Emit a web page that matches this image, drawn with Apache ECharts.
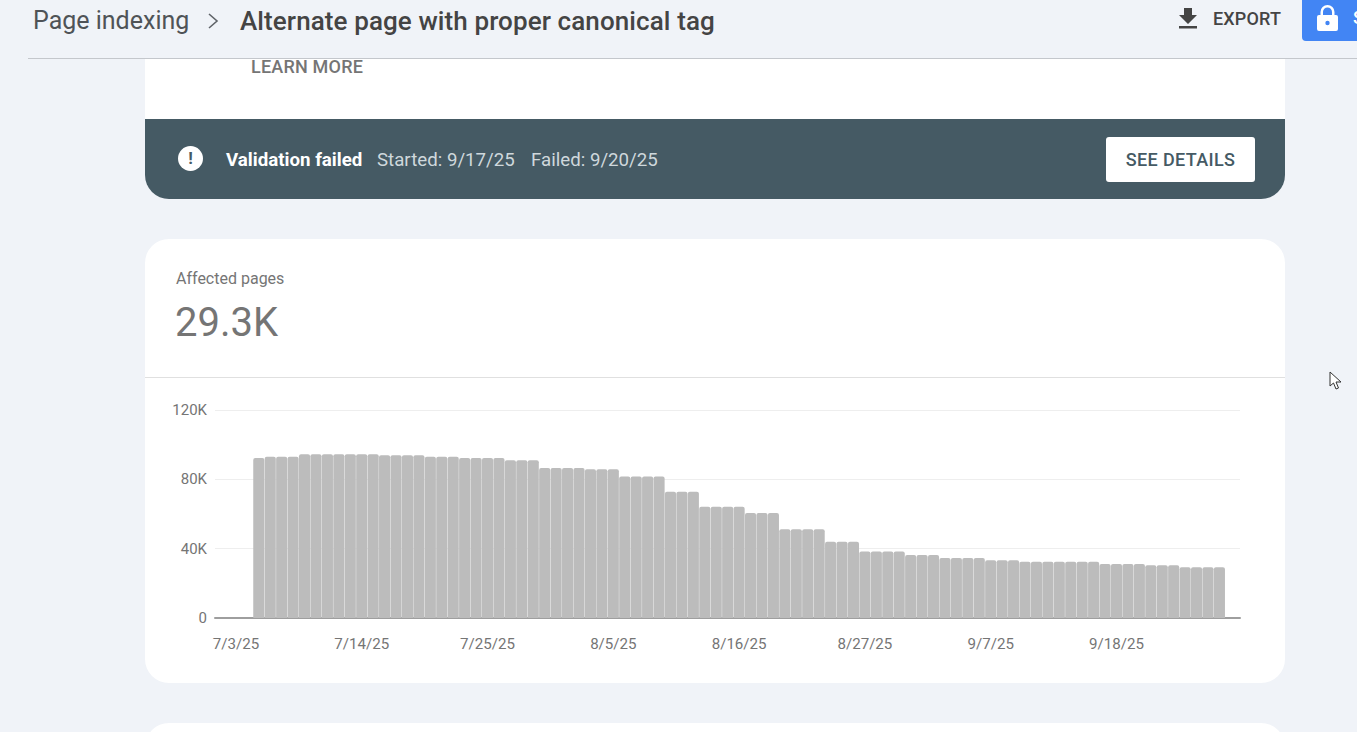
<!DOCTYPE html>
<html>
<head>
<meta charset="utf-8">
<script src="https://cdn.jsdelivr.net/npm/echarts@6/dist/echarts.min.js"></script>
<style>
html,body{margin:0;padding:0;width:1357px;height:732px;overflow:hidden;background:#f0f3f8;font-family:Roboto,sans-serif}
.abs{position:absolute;white-space:nowrap}
#chart{position:absolute;left:0;top:0;width:1357px;height:732px;z-index:3}
</style>
</head>
<body>
<div class="abs" style="left:33px;top:5px;font-size:25px;line-height:32px;color:#4f5357">Page indexing</div>
<div class="abs" style="left:207px;top:11px"><svg width="14" height="20"><path d="M2 3 L10 10 L2 17" fill="none" stroke="#5f6368" stroke-width="1.6"/></svg></div>
<div class="abs" style="left:240px;top:4.5px;font-size:26px;line-height:32px;color:#444;font-weight:500;letter-spacing:.1px">Alternate page with proper canonical tag</div>
<div class="abs" style="left:1178px;top:7px"><svg width="20" height="22"><path d="M6 1h8v7h5l-9 9-9-9h5zM1 19h18v2.4H1z" fill="#444"/></svg></div>
<div class="abs" style="left:1213px;top:8px;font-size:18px;line-height:22px;font-weight:500;color:#444;letter-spacing:.15px">EXPORT</div>
<div class="abs" style="left:1302px;top:0;width:55px;height:41px;background:#4285f4;border-bottom-left-radius:4px;overflow:hidden">
<svg style="position:absolute;left:14px;top:4px" width="24" height="28"><path d="M3 11h1.5V8a7 7 0 0 1 14 0v3H20a2 2 0 0 1 2 2v12a2 2 0 0 1-2 2H3a2 2 0 0 1-2-2V13a2 2 0 0 1 2-2zM7 11h9V8a4.5 4.5 0 0 0-9 0z" fill="#fff"/><circle cx="11.5" cy="19" r="2.2" fill="#4285f4"/></svg>
<span style="position:absolute;left:51px;top:7px;color:#fff;font-size:18px;font-weight:500">S</span></div>
<div class="abs" style="left:28px;top:58px;width:1329px;height:1px;background:#c4c7cc"></div>

<div class="abs" style="left:145px;top:59px;width:1140px;height:60px;background:#fff"></div>
<div class="abs" style="left:251px;top:56px;font-size:18px;line-height:22px;font-weight:500;color:#757575;letter-spacing:.2px">LEARN MORE</div>
<div class="abs" style="left:145px;top:119px;width:1140px;height:80px;background:#455a64;border-radius:0 0 24px 24px"></div>
<div class="abs" style="left:178px;top:146px;width:25px;height:25px;border-radius:50%;background:#fff;color:#455a64;font-size:17px;font-weight:700;line-height:25px;text-align:center">!</div>
<div class="abs" style="left:226px;top:149px;font-size:18.7px;line-height:22px;font-weight:700;color:#fff">Validation failed</div>
<div class="abs" style="left:377px;top:149px;font-size:18.7px;line-height:22px;color:#cfd8dc">Started: 9/17/25</div>
<div class="abs" style="left:531px;top:149px;font-size:18.7px;line-height:22px;color:#cfd8dc">Failed: 9/20/25</div>
<div class="abs" style="left:1106px;top:137px;width:149px;height:45px;background:#fff;border-radius:3px;text-align:center;font-size:18px;line-height:45px;font-weight:500;color:#455a64;letter-spacing:.35px">SEE DETAILS</div>

<div class="abs" style="left:145px;top:239px;width:1140px;height:444px;background:#fff;border-radius:24px"></div>
<div class="abs" style="left:176px;top:269px;font-size:16px;line-height:20px;color:#757575">Affected pages</div>
<div class="abs" style="left:175px;top:299px;font-size:40px;line-height:48px;color:#757575">29.3K</div>
<div class="abs" style="left:145px;top:377px;width:1140px;height:1px;background:#e0e0e0"></div>
<div class="abs" style="left:145px;top:723px;width:1140px;height:40px;background:#fff;border-radius:24px 24px 0 0"></div>
<div class="abs" style="left:1329px;top:371px;z-index:5"><svg width="14" height="20"><path d="M1 1 L1 15 L4.5 12 L7 18 L9.5 17 L7 11 L12 11 Z" fill="#fff" stroke="#333" stroke-width="1"/></svg></div>
<div id="chart"></div>
<script>
var tickDays = [0, 11, 22, 33, 44, 55, 66, 77];
var tickLabels = ["7/3/25", "7/14/25", "7/25/25", "8/5/25", "8/16/25", "8/27/25", "9/7/25", "9/18/25"];
var firstBarDay = 2;
var pages = [
 92300, 93100, 93100, 93100,
 94500, 94500, 94500, 94500, 94500, 94500, 94500,
 93900, 93900, 93900, 93900,
 93100, 93100, 93100,
 92300, 92300, 92300, 92300,
 91000, 91000, 91000,
 86500, 86500, 86500, 86500,
 85800, 85800, 85800,
 81600, 81600, 81600, 81600,
 72900, 72900, 72900,
 64200, 64200, 64200, 64200,
 60600, 60600, 60600,
 51200, 51200, 51200, 51200,
 44000, 44000, 44000,
 38300, 38300, 38300, 38300,
 36300, 36300, 36300,
 34600, 34600, 34600, 34600,
 33300, 33300, 33300,
 32500, 32500, 32500, 32500, 32500, 32500, 32500,
 31200, 31200, 31200, 31200,
 30400, 30400, 30400,
 29300, 29300, 29300, 29300
];
var chart = echarts.init(document.getElementById('chart'), null, {renderer: 'svg'});
chart.setOption({
  animation: false,
  backgroundColor: 'transparent',
  textStyle: {fontFamily: 'Roboto'},
  grid: {left: 215, width: 1025, top: 410, height: 208, containLabel: false},
  xAxis: {
    type: 'value', min: -1.83, max: 87.8, scale: true,
    axisLine: {show: true, onZero: true, lineStyle: {color: '#9e9e9e', width: 2}},
    axisTick: {show: false},
    splitLine: {show: false},
    axisLabel: {
      customValues: tickDays, color: '#757575', fontSize: 15.1, margin: 18,
      formatter: function (v) { return tickLabels[tickDays.indexOf(v)]; }
    }
  },
  yAxis: {
    type: 'value', min: 0, max: 120000, interval: 40000,
    axisLine: {show: false}, axisTick: {show: false},
    splitLine: {lineStyle: {color: '#eeeeee', width: 1}},
    axisLabel: {color: '#757575', fontSize: 15, margin: 8,
      formatter: function (v) { return v === 0 ? '0' : (v / 1000) + 'K'; }}
  },
  series: [{
    type: 'bar', barWidth: 11.1,
    itemStyle: {color: '#bcbcbc', borderRadius: [2, 2, 0, 0]},
    data: pages.map(function (v, i) { return [firstBarDay + i, v]; })
  }]
});
</script>
</body>
</html>
